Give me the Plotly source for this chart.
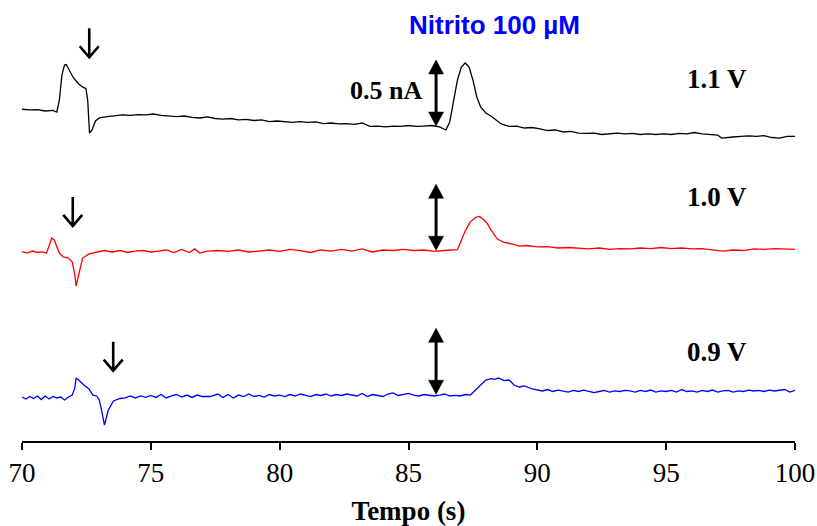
import plotly.graph_objects as go

# ---------------- data (current in nA, traces offset vertically) ----------------
t_11 = [70.0, 70.3, 70.6, 70.9, 71.2, 71.35, 71.45, 71.55, 71.65, 71.72, 71.85, 72.0, 72.2, 72.35, 72.48,
        72.55, 72.62, 72.72, 72.85, 73.0, 73.3, 73.6, 73.9, 74.2, 74.5, 74.8, 75.1, 75.4, 75.7, 76.0,
        76.3, 76.6, 76.9, 77.2, 77.5, 77.8, 78.1, 78.4, 78.7, 79.0, 79.3, 79.6, 79.9, 80.2, 80.5,
        80.8, 81.1, 81.4, 81.7, 82.0, 82.3, 82.6, 82.9, 83.2, 83.5, 83.8, 84.1, 84.4, 84.7, 85.0,
        85.3, 85.6, 85.9, 86.2, 86.45, 86.6, 86.75, 86.9, 87.05, 87.2, 87.35, 87.5, 87.65, 87.8, 88.0,
        88.2, 88.4, 88.6, 88.9, 89.2, 89.5, 89.8, 90.1, 90.4, 90.7, 91.0, 91.3, 91.6, 91.9, 92.2,
        92.5, 92.8, 93.1, 93.4, 93.7, 94.0, 94.3, 94.6, 94.9, 95.2, 95.5, 95.8, 96.1, 96.4, 96.7,
        97.0, 97.15, 97.3, 97.6, 97.9, 98.2, 98.5, 98.8, 99.1, 99.4, 99.7, 100.0]
i_11 = [2.513, 2.508, 2.511, 2.500, 2.504, 2.492, 2.583, 2.773, 2.848, 2.852, 2.803, 2.750, 2.705, 2.682, 2.670,
        2.583, 2.333, 2.356, 2.424, 2.447, 2.458, 2.466, 2.470, 2.466, 2.473, 2.470, 2.477, 2.466, 2.462, 2.458,
        2.462, 2.451, 2.447, 2.455, 2.443, 2.439, 2.443, 2.432, 2.436, 2.428, 2.432, 2.420, 2.424, 2.420, 2.413,
        2.420, 2.413, 2.417, 2.405, 2.409, 2.402, 2.405, 2.398, 2.409, 2.383, 2.386, 2.379, 2.386, 2.383, 2.390,
        2.383, 2.386, 2.390, 2.379, 2.356, 2.417, 2.583, 2.735, 2.833, 2.864, 2.833, 2.735, 2.606, 2.530, 2.485,
        2.462, 2.432, 2.402, 2.383, 2.386, 2.371, 2.375, 2.364, 2.352, 2.356, 2.341, 2.345, 2.333, 2.330, 2.333,
        2.322, 2.326, 2.333, 2.326, 2.330, 2.322, 2.326, 2.322, 2.326, 2.322, 2.330, 2.326, 2.337, 2.326, 2.322,
        2.318, 2.295, 2.299, 2.303, 2.307, 2.311, 2.307, 2.314, 2.299, 2.295, 2.307, 2.307]

t_10 = [70.0, 70.2, 70.4, 70.6, 70.8, 70.95, 71.05, 71.15, 71.25, 71.35, 71.45, 71.6, 71.8, 71.95, 72.05,
        72.1, 72.2, 72.35, 72.6, 72.9, 73.2, 73.5, 73.8, 74.1, 74.4, 74.7, 75.0, 75.3, 75.6, 75.9,
        76.2, 76.5, 76.7, 76.9, 77.2, 77.6, 78.0, 78.4, 78.8, 79.2, 79.6, 80.0, 80.4, 80.8, 81.2,
        81.6, 82.0, 82.4, 82.8, 83.2, 83.6, 84.0, 84.4, 84.8, 85.2, 85.6, 86.0, 86.4, 86.7, 86.9,
        87.05, 87.2, 87.4, 87.6, 87.75, 87.9, 88.05, 88.2, 88.45, 88.7, 89.05, 89.3, 89.6, 90.0, 90.4,
        90.8, 91.2, 91.6, 92.0, 92.4, 92.8, 93.2, 93.6, 94.0, 94.4, 94.8, 95.2, 95.6, 96.0, 96.4,
        96.8, 97.2, 97.6, 98.0, 98.4, 98.8, 99.2, 99.6, 100.0]
i_10 = [1.434, 1.424, 1.439, 1.428, 1.432, 1.422, 1.477, 1.538, 1.523, 1.470, 1.424, 1.394, 1.386, 1.356, 1.258,
        1.174, 1.258, 1.386, 1.417, 1.432, 1.443, 1.432, 1.443, 1.428, 1.439, 1.443, 1.432, 1.439, 1.447, 1.428,
        1.451, 1.428, 1.455, 1.424, 1.439, 1.443, 1.436, 1.447, 1.432, 1.439, 1.447, 1.436, 1.451, 1.443, 1.428,
        1.447, 1.439, 1.451, 1.439, 1.455, 1.432, 1.447, 1.443, 1.451, 1.443, 1.447, 1.436, 1.443, 1.447, 1.450,
        1.520, 1.590, 1.660, 1.695, 1.701, 1.680, 1.650, 1.600, 1.530, 1.505, 1.492, 1.477, 1.481, 1.470, 1.473,
        1.462, 1.466, 1.458, 1.455, 1.462, 1.451, 1.458, 1.455, 1.462, 1.458, 1.466, 1.458, 1.462, 1.455, 1.458,
        1.451, 1.439, 1.447, 1.443, 1.455, 1.451, 1.458, 1.455, 1.451]

t_09 = [70.0, 70.15, 70.3, 70.45, 70.6, 70.75, 70.9, 71.05, 71.2, 71.35, 71.5, 71.65, 71.8, 71.95, 72.05,
        72.1, 72.2, 72.4, 72.6, 72.75, 72.9, 73.0, 73.1, 73.2, 73.35, 73.55, 73.8, 74.0, 74.2, 74.4,
        74.6, 74.8, 75.0, 75.2, 75.4, 75.6, 75.8, 76.0, 76.2, 76.4, 76.6, 76.8, 77.0, 77.3, 77.6,
        77.8, 78.0, 78.2, 78.4, 78.6, 78.8, 79.0, 79.2, 79.4, 79.6, 79.8, 80.0, 80.2, 80.4, 80.6,
        80.8, 81.0, 81.2, 81.4, 81.6, 81.8, 82.0, 82.2, 82.4, 82.6, 82.8, 83.0, 83.2, 83.4, 83.6,
        83.8, 84.0, 84.2, 84.4, 84.6, 84.8, 85.0, 85.2, 85.4, 85.6, 85.8, 86.0, 86.2, 86.4, 86.6,
        86.8, 87.0, 87.2, 87.4, 87.6, 87.8, 88.0, 88.2, 88.35, 88.5, 88.7, 88.9, 89.1, 89.3, 89.5,
        89.8, 90.0, 90.2, 90.4, 90.6, 90.8, 91.0, 91.2, 91.4, 91.6, 91.8, 92.0, 92.2, 92.4, 92.6,
        92.8, 93.0, 93.2, 93.4, 93.6, 93.8, 94.0, 94.2, 94.4, 94.6, 94.8, 95.0, 95.2, 95.4, 95.6,
        95.8, 96.0, 96.2, 96.4, 96.6, 96.8, 97.0, 97.2, 97.4, 97.6, 97.8, 98.0, 98.2, 98.4, 98.6,
        98.8, 99.0, 99.2, 99.4, 99.6, 99.8, 100.0]
i_09 = [0.333, 0.318, 0.337, 0.322, 0.341, 0.314, 0.341, 0.318, 0.337, 0.326, 0.333, 0.311, 0.333, 0.348, 0.402,
        0.477, 0.462, 0.424, 0.394, 0.348, 0.341, 0.311, 0.220, 0.121, 0.235, 0.303, 0.322, 0.326, 0.341, 0.326,
        0.341, 0.330, 0.345, 0.330, 0.352, 0.326, 0.341, 0.352, 0.333, 0.348, 0.330, 0.348, 0.337, 0.337, 0.356,
        0.330, 0.352, 0.326, 0.348, 0.337, 0.356, 0.337, 0.345, 0.333, 0.352, 0.341, 0.348, 0.337, 0.352, 0.341,
        0.356, 0.345, 0.337, 0.352, 0.345, 0.356, 0.341, 0.352, 0.345, 0.356, 0.348, 0.341, 0.360, 0.337, 0.352,
        0.345, 0.337, 0.356, 0.364, 0.345, 0.352, 0.360, 0.348, 0.341, 0.352, 0.345, 0.341, 0.348, 0.356, 0.341,
        0.345, 0.341, 0.352, 0.348, 0.386, 0.424, 0.462, 0.473, 0.467, 0.477, 0.458, 0.462, 0.424, 0.409, 0.417,
        0.394, 0.386, 0.379, 0.390, 0.375, 0.386, 0.379, 0.371, 0.383, 0.375, 0.386, 0.379, 0.367, 0.375, 0.383,
        0.371, 0.379, 0.375, 0.383, 0.379, 0.371, 0.383, 0.375, 0.386, 0.371, 0.379, 0.375, 0.383, 0.371, 0.390,
        0.375, 0.379, 0.371, 0.383, 0.375, 0.386, 0.371, 0.379, 0.383, 0.371, 0.379, 0.375, 0.386, 0.379, 0.383,
        0.375, 0.386, 0.379, 0.383, 0.390, 0.371, 0.383]

potential_labels = ["1.1 V", "1.0 V", "0.9 V"]
label_y = [2.742, 1.852, 0.674]
trace_colors = ["#000000", "#FF0000", "#0000FF"]

# injection markers (down arrows): time and current at arrow tip
inject_t = [72.61, 71.97, 73.54]
inject_y = [2.907, 1.629, 0.533]

# scale bars (0.5 nA) at t = 86.07 s, base current of each trace
scale_t = 86.07
scale_na = 0.5
scale_base = [2.386, 1.445, 0.354]

x_ticks = [70, 75, 80, 85, 90, 95, 100]

# ---------------- figure ----------------
SERIF = "Liberation Serif, Times New Roman, serif"
SANS = "Liberation Sans, Arial, sans-serif"

fig = go.Figure()
for tt, ii, col, name in zip([t_11, t_10, t_09], [i_11, i_10, i_09], trace_colors, potential_labels):
    fig.add_trace(go.Scatter(x=tt, y=ii, mode="lines", name=name,
                             line=dict(color=col, width=1.3), showlegend=False, hoverinfo="skip"))

shapes = []
# injection arrows (shaft + open chevron head)
for xt, yt in zip(inject_t, inject_y):
    shapes.append(dict(type="path", xref="x", yref="y", xsizemode="pixel", ysizemode="pixel",
                       xanchor=xt, yanchor=yt,
                       path="M0,1 L0,29 M-9.5,11 L0,0 L9.5,11",
                       line=dict(color="black", width=2.6)))
# scale bars (double-headed arrows)
for base in scale_base:
    top = base + scale_na
    shapes.append(dict(type="line", xref="x", yref="y", x0=scale_t, x1=scale_t,
                       y0=base + 0.05, y1=top - 0.05, line=dict(color="black", width=3)))
    shapes.append(dict(type="path", xref="x", yref="y", xsizemode="pixel", ysizemode="pixel",
                       xanchor=scale_t, yanchor=top, path="M0,0 L-7.5,-14 L7.5,-14 Z",
                       fillcolor="black", line=dict(color="black", width=0.5)))
    shapes.append(dict(type="path", xref="x", yref="y", xsizemode="pixel", ysizemode="pixel",
                       xanchor=scale_t, yanchor=base, path="M0,0 L-7.5,14 L7.5,14 Z",
                       fillcolor="black", line=dict(color="black", width=0.5)))

annotations = []
for lab, ly in zip(potential_labels, label_y):
    annotations.append(dict(x=95.72, y=ly, xref="x", yref="y", text="<b>%s</b>" % lab,
                            showarrow=False, xanchor="left", yanchor="middle",
                            font=dict(family=SERIF, size=27, color="black")))
annotations.append(dict(x=85.6, y=2.659, xref="x", yref="y", text="<b>0.5 nA</b>",
                        showarrow=False, xanchor="right", yanchor="middle",
                        font=dict(family=SERIF, size=26, color="black")))
annotations.append(dict(x=88.35, y=3.152, xref="x", yref="y", text="<b>Nitrito 100 µM</b>",
                        showarrow=False, xanchor="center", yanchor="middle",
                        font=dict(family=SANS, size=26, color="#0000FF")))

fig.update_layout(
    width=817, height=526,
    margin=dict(l=22, r=22, t=10, b=85, autoexpand=False),
    paper_bgcolor="white", plot_bgcolor="white",
    shapes=shapes, annotations=annotations,
    xaxis=dict(range=[70, 100], tickmode="array", tickvals=x_ticks,
               ticktext=[str(v) for v in x_ticks], automargin=False,
               showline=True, linecolor="black", linewidth=2,
               ticks="outside", ticklen=7, tickwidth=2, tickcolor="black",
               showgrid=False, zeroline=False,
               tickfont=dict(family=SERIF, size=27, color="black"),
               title=dict(text="<b>Tempo (s)</b>", font=dict(family=SERIF, size=27, color="black"),
                          standoff=14)),
    yaxis=dict(range=[0, 3.265], visible=False, showgrid=False, zeroline=False),
)

fig.write_html("out.html", config={"displayModeBar": False},
               post_script="document.body.style.margin='0';document.body.style.overflow='hidden';")
